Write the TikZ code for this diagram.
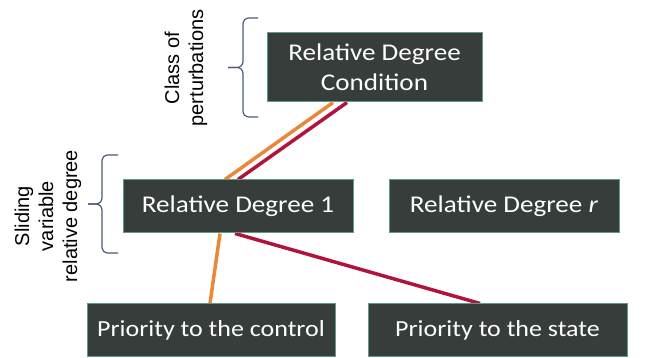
\documentclass[tikz,border=0pt]{standalone}
\usepackage{fontspec}
\setmainfont{Carlito}[FakeStretch=1.13]
\newfontfamily\labelfont{Liberation Sans}
\usetikzlibrary{backgrounds}

\definecolor{boxfill}{HTML}{373D3A}
\definecolor{boxedge}{HTML}{5C9C88}
\definecolor{bracecol}{HTML}{4D5B78}
\definecolor{ctrlorange}{HTML}{E8893A}
\definecolor{statered}{HTML}{B0143C}

\begin{document}
\begin{tikzpicture}[x=1pt, y=-1pt,
	degbox/.style={draw=boxedge, line width=1pt, fill=boxfill, text=white, inner sep=0pt,
		font=\fontsize{24}{30}\selectfont, align=center, minimum height=53pt},
	sidelabel/.style={font=\labelfont\fontsize{20}{24}\selectfont, align=center, rotate=90},
	bracket/.style={draw=bracecol, line width=1.2pt, rounded corners=6pt},
	link/.style={line width=3.5pt}]
	\useasboundingbox (0,0) rectangle (646,358);

	% boxes
	\node[degbox, minimum width=215pt, minimum height=69pt] (cond) at (374.5,67.5) {Relative Degree\\Condition};
	\node[degbox, minimum width=230pt] (rdone) at (238,206.5) {Relative Degree 1};
	\node[degbox, minimum width=230pt] (rdr) at (504,206.5) {Relative Degree \textit{r}};
	\node[degbox, minimum width=248pt, font=\fontsize{23}{28}\selectfont] (ctrl) at (211,330.5) {Priority to the control};
	\node[degbox, minimum width=259pt, font=\fontsize{23}{28}\selectfont] (state) at (497.5,330.5) {Priority to the state};

	% connectors
	\begin{scope}[on background layer]
		\draw[link, ctrlorange] ([xshift=-13pt]rdone.north) -- ([xshift=-41.5pt]cond.south);
		\draw[link, statered] ([xshift=0pt]rdone.north) -- ([xshift=-27.5pt]cond.south);
		\draw[link, ctrlorange] ([xshift=-18pt]rdone.south) -- ([xshift=-1pt]ctrl.north);
		\draw[link, statered] ([xshift=-3pt]rdone.south) -- ([xshift=-17.5pt]state.north);
	\end{scope}

	% braces and their labels
	\draw[bracket] (258,18) -- (243,18) -- (243,67.5) -- (228,67.5);
	\draw[bracket] (228,67.5) -- (243,67.5) -- (243,117) -- (258,117);
	\node[sidelabel] (perturb) at (186,68) {Class of\\perturbations};
	\draw[bracket] (118,155) -- (102,155) -- (102,204) -- (88,204);
	\draw[bracket] (88,204) -- (102,204) -- (102,253) -- (118,253);
	\node[sidelabel] (sliding) at (48,216) {Sliding\\variable\\relative degree};
\end{tikzpicture}
\end{document}
